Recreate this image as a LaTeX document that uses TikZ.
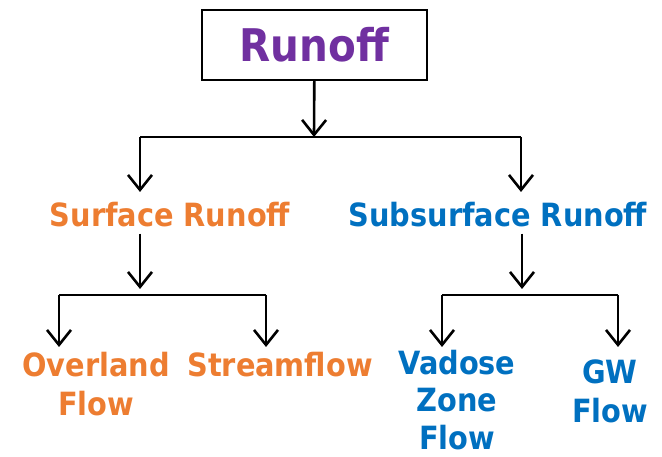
\documentclass[tikz,border=0pt]{standalone}
\usepackage{fontspec}
\setmainfont{DejaVu Sans Condensed}
\usepackage{tikz}
\usetikzlibrary{arrows.meta}
\definecolor{runpurple}{HTML}{7030A0}
\definecolor{surforange}{HTML}{ED7D31}
\definecolor{subblue}{HTML}{0070C0}
\tikzset{
  labeltext/.style={font=\bfseries\fontsize{32}{39}\selectfont, inner sep=0pt, align=center},
  branch/.style={line width=2.6pt},
  flow/.style={branch, -{Straight Barb[length=15pt,width=24pt,line width=2.6pt]}}
}

\begin{document}
\begin{tikzpicture}[x=1pt,y=-1pt]
\useasboundingbox (0,0) rectangle (662,457);
% main box
\node[draw, line width=1.8pt, minimum width=225pt, minimum height=70pt, inner sep=0pt,
  text=runpurple, font=\bfseries\fontsize{45}{50}\selectfont] (runoff) at (314.5,45) {Runoff};
\node[labeltext, text=surforange] (surface) at (170,215) {Surface Runoff};
\node[labeltext, text=subblue] (subsurface) at (498,215) {Subsurface Runoff};
\node[labeltext, text=surforange] (overland) at (96,384) {Overland\\Flow};
\node[labeltext, text=surforange] (stream) at (280,365) {Streamflow};
\node[labeltext, text=subblue, font=\bfseries\fontsize{32}{37.5}\selectfont] (vadose) at (457,400) {Vadose\\Zone\\Flow};
\node[labeltext, text=subblue] (gw) at (610,391) {GW\\Flow};

\coordinate (top) at (314,137);
\coordinate (topl) at (140,137);
\coordinate (topr) at (521,137);
\coordinate (surfj) at (140,289);
\coordinate (subj) at (522,289);
\coordinate (surfl) at (59,295);
\coordinate (surfr) at (266,295);
\coordinate (subl) at (442,295);
\coordinate (subr) at (618,295);

\draw[flow] (runoff) -- (top);
\draw[branch] (topl) -- (topr);
\draw[flow] (topl) -- ++(0,55);
\draw[flow] (topr) -- ++(0,55);

\draw[flow] (surfj |- surface.south) ++(0,6) -- (surfj);
\draw[branch] (surfl) -- (surfr);
\draw[flow] (surfl) -- ++(0,52);
\draw[flow] (surfr) -- ++(0,52);

\draw[flow] (subj |- subsurface.south) ++(0,6) -- (subj);
\draw[branch] (subl) -- (subr);
\draw[flow] (subl) -- ++(0,52);
\draw[flow] (subr) -- ++(0,52);
\end{tikzpicture}
\end{document}
